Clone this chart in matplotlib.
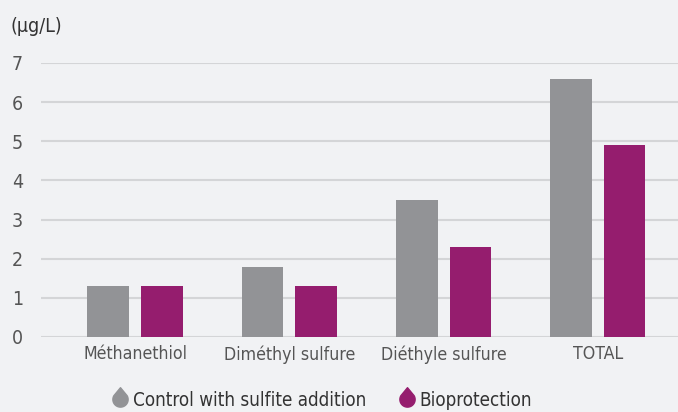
import matplotlib.pyplot as plt
import numpy as np
from matplotlib.path import Path
from matplotlib.lines import Line2D

plt.rcParams['font.family'] = ['DejaVu Sans']
plt.rcParams['font.stretch'] = 'condensed'

# Data
categories = ['Méthanethiol', 'Diméthyl sulfure', 'Diéthyle sulfure', 'TOTAL']
control = [1.3, 1.8, 3.5, 6.6]
bioprotection = [1.3, 1.3, 2.3, 4.9]
series_names = ['Control with sulfite addition', 'Bioprotection']

bg = '#f1f2f4'
gray = '#929396'
purple = '#951d6e'
text_color = '#555555'

# Drop-shaped marker for the legend
ang = np.linspace(np.deg2rad(30), np.deg2rad(-210), 60)
verts = [(0, 1.55)] + [(np.cos(a), np.sin(a)) for a in ang] + [(0, 1.55)]
codes = [Path.MOVETO] + [Path.LINETO] * (len(verts) - 2) + [Path.CLOSEPOLY]
drop = Path(verts, codes)

fig = plt.figure(figsize=(6.78, 4.12), dpi=100, facecolor=bg)
ax = fig.add_axes([41 / 678, 75 / 412, 637 / 678, 274 / 412])
ax.set_facecolor(bg)

x = np.arange(len(categories))
w = 0.27
ax.bar(x - 0.174, control, width=w, color=gray, zorder=3)
ax.bar(x + 0.174, bioprotection, width=w, color=purple, zorder=3)

ax.set_ylim(0, 7)
ax.set_xlim(-0.61, 3.52)
ax.set_yticks(range(8))
ax.yaxis.grid(True, color='#d4d5d7', linewidth=1.5, zorder=0)
ax.set_xticks(x)
ax.set_xticklabels(categories)
ax.tick_params(axis='x', length=0, labelsize=12.7, colors=text_color, pad=6)
ax.tick_params(axis='y', length=0, labelsize=14, colors=text_color, pad=13)
for s in ax.spines.values():
    s.set_visible(False)

fig.text(10 / 678, 1 - 32 / 412, '(µg/L)', fontsize=14, color='#333333')

handles = [Line2D([], [], linestyle='none', marker=drop, markersize=17, color=gray),
           Line2D([], [], linestyle='none', marker=drop, markersize=17, color=purple)]
fig.legend(handles, series_names, loc='center', bbox_to_anchor=(0.474, 1 - 400 / 412),
           ncol=2, frameon=False, fontsize=13.5, labelcolor='#333333',
           handletextpad=0.15, columnspacing=1.7, handlelength=1.0)

fig.savefig('out.png', dpi=100, facecolor=bg)
